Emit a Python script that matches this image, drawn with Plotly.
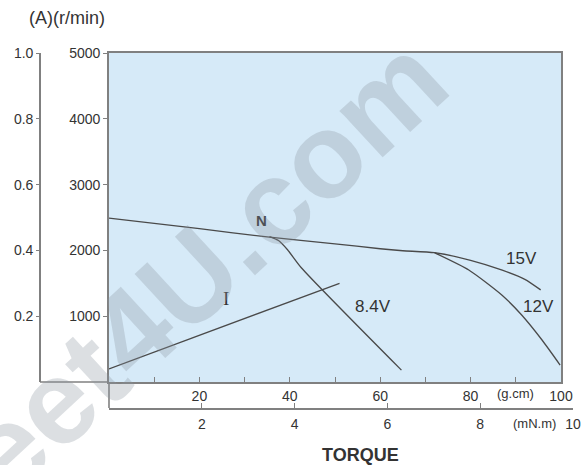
import plotly.graph_objects as go

# ---- data ----
torque_15v = [0, 20, 35, 50, 60, 65, 72, 80, 87, 92, 95.5]          # g.cm
speed_15v = [2490, 2330, 2205, 2100, 2025, 1995, 1965, 1850, 1700, 1560, 1400]  # r/min

torque_84v = [35.5, 37.5, 39.5, 42.5, 64.7]
speed_84v = [2210, 2150, 2010, 1740, 180]

torque_12v = [72, 79.6, 86.9, 91.3, 95.8, 99.8]
speed_12v = [1965, 1702, 1322, 1018, 638, 258]

torque_i = [0, 51]
current_i = [0.04, 0.30]   # A

gcm_ticks = [10, 20, 30, 40, 50, 60, 70, 80, 90, 100]
gcm_text = ["", "20", "", "40", "", "60", "", "80", "", "100"]
mnm_ticks = [2, 4, 6, 8, 10]
mnm_text = ["2", "4", "6", "8", "10"]
rpm_ticks = [1000, 2000, 3000, 4000, 5000]
amp_ticks = [0.2, 0.4, 0.6, 0.8, 1.0]
amp_text = ["0.2", "0.4", "0.6", "0.8", "1.0"]

# ---- styling ----
AX = "#808080"
LINE = "#4a4a4a"
TXT = "#333333"
FONT = "Liberation Sans, Arial, sans-serif"
BLUE = "#d6eaf8"

W, H = 582, 465
L, R, T, B = 40, 9, 53, 57
pw, ph = W - L - R, H - T - B
xdom = [(109 - L) / pw, (561 - L) / pw]
ydom = [(408 - 382) / ph, 1.0]

fig = go.Figure()

line_style = dict(color=LINE, width=1.3, shape="spline", smoothing=0.6)
fig.add_trace(go.Scatter(x=torque_15v, y=speed_15v, mode="lines", line=line_style,
                         xaxis="x", yaxis="y", hoverinfo="skip"))
fig.add_trace(go.Scatter(x=torque_84v, y=speed_84v, mode="lines", line=line_style,
                         xaxis="x", yaxis="y", hoverinfo="skip"))
fig.add_trace(go.Scatter(x=torque_12v, y=speed_12v, mode="lines", line=line_style,
                         xaxis="x", yaxis="y", hoverinfo="skip"))
fig.add_trace(go.Scatter(x=torque_i, y=current_i, mode="lines",
                         line=dict(color=LINE, width=1.3),
                         xaxis="x", yaxis="y2", hoverinfo="skip"))
# empty trace so the mN.m axis gets its own subplot
fig.add_trace(go.Scatter(x=[0, 10], y=[None, None], mode="lines",
                         xaxis="x2", yaxis="y3", hoverinfo="skip"))

tickfont = dict(family=FONT, size=14, color=TXT)
common = dict(showgrid=False, zeroline=False, fixedrange=True, automargin=False,
              linecolor=AX, linewidth=1.6, tickcolor=AX, tickwidth=1.3, tickfont=tickfont)

fig.update_layout(
    width=W, height=H,
    margin=dict(l=L, r=R, t=T, b=B, pad=0, autoexpand=False),
    paper_bgcolor="white", plot_bgcolor="rgba(0,0,0,0)",
    showlegend=False,
    xaxis=dict(domain=xdom, range=[0, 100], anchor="y",
               showline=True, mirror=True,
               ticks="inside", ticklen=5,
               tickvals=gcm_ticks, ticktext=gcm_text, **common),
    xaxis2=dict(domain=[xdom[0], 1.0], range=[0, 10], anchor="y3",
                side="bottom", showline=True,
                ticks="inside", ticklen=5, ticklabelstandoff=2,
                tickvals=mnm_ticks, ticktext=mnm_text, **common),
    yaxis=dict(domain=ydom, range=[0, 5000], anchor="x",
               showline=True, mirror=True,
               ticks="outside", ticklen=4,
               tickvals=rpm_ticks, **common),
    yaxis2=dict(overlaying="y", anchor="free", position=0, side="left",
                range=[0, 1], showline=True,
                ticks="outside", ticklen=3,
                tickvals=amp_ticks, ticktext=amp_text, **common),
    yaxis3=dict(domain=[0, 0.001], range=[0, 1], anchor="x2", visible=False,
                fixedrange=True),
)

# blue plotting field and extra axis connectors
fig.add_shape(type="rect", xref="paper", yref="paper",
              x0=xdom[0], x1=xdom[1], y0=ydom[0], y1=ydom[1],
              fillcolor=BLUE, line=dict(width=0), layer="below")
fig.add_shape(type="line", xref="paper", yref="paper", x0=0, x1=xdom[0],
              y0=ydom[0], y1=ydom[0], line=dict(color=AX, width=1.6))
fig.add_shape(type="line", xref="paper", yref="paper", x0=xdom[0], x1=xdom[0],
              y0=0, y1=ydom[0], line=dict(color=AX, width=1.6))

def note(text, x, y, xref="x", yref="y", size=17, family=FONT, color=TXT,
         xanchor="center", yanchor="middle", **kw):
    fig.add_annotation(text=text, x=x, y=y, xref=xref, yref=yref, showarrow=False,
                       xanchor=xanchor, yanchor=yanchor,
                       font=dict(family=family, size=size, color=color), **kw)

note("<b>N</b>", 33.8, 2447, size=15)
note("8.4V", 58.4, 1155)
note("15V", 91.3, 1870)
note("12V", 95.1, 1140)
note("I", 25.8, 1262, family="Liberation Serif, Times New Roman, serif", size=19)
note("(g.cm)", (515 - L) / pw, (408 - 393) / ph, xref="paper", yref="paper", size=13)
note("(mN.m)", (534 - L) / pw, (408 - 423) / ph, xref="paper", yref="paper", size=13)
note("<b>TORQUE</b>", (360 - L) / pw, (408 - 455) / ph, xref="paper", yref="paper", size=18)
note("(A)(r/min)", (27 - L) / pw, (408 - 18) / ph, xref="paper", yref="paper", size=18,
     xanchor="left")

# faint diagonal watermark
note("<b>eet4U.com</b>", (203 - L) / pw, (408 - 266) / ph, xref="paper", yref="paper",
     size=120, color="rgba(140,150,160,0.30)", textangle=-42.7)

fig.write_html("out.html",
               config={"displayModeBar": False},
               post_script="document.body.style.margin='0px';"
                           "document.body.style.overflow='hidden';")
